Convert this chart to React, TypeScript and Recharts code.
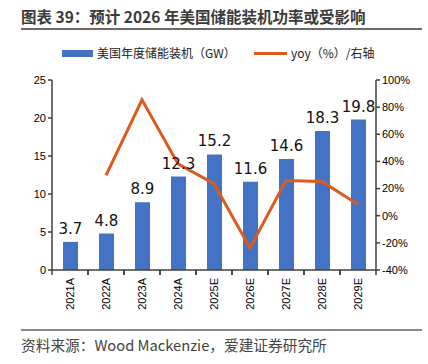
import { ComposedChart, Bar, Line, XAxis, YAxis, LabelList } from 'recharts';

const years = ['2021A', '2022A', '2023A', '2024A', '2025E', '2026E', '2027E', '2028E', '2029E'];
const installs = [3.7, 4.8, 8.9, 12.3, 15.2, 11.6, 14.6, 18.3, 19.8];
const yoy = [null, 29.7, 85.4, 38.2, 23.6, -23.7, 25.9, 25.3, 8.2];
const leftTicks = [0, 5, 10, 15, 20, 25];
const rightTicks = [-40, -20, 0, 20, 40, 60, 80, 100];

const BAR_COLOR = '#4472C4';
const LINE_COLOR = '#DD5A1E';
const AXIS_COLOR = '#404040';
const BAND = 36; // category width in px (324 / 9)

const data = years.map((y, i) => ({ year: y, gw: installs[i], yoy: yoy[i] }));

function XTick(props: any) {
  const { x, y, payload } = props;
  return (
    <g>
      <line x1={x - BAND / 2} x2={x - BAND / 2} y1={y - 8} y2={y - 3} stroke={AXIS_COLOR} strokeWidth={1.5} />
      <line x1={x + BAND / 2} x2={x + BAND / 2} y1={y - 8} y2={y - 3} stroke={AXIS_COLOR} strokeWidth={1.5} />
      <text
        x={0}
        y={0}
        transform={`translate(${x + 4},${y})rotate(-90)`}
        textAnchor="end"
        fontSize={11}
        fill="#000"
        fontFamily="Liberation Sans, Arial, sans-serif"
      >
        {payload.value}
      </text>
    </g>
  );
}

export default function App() {
  return (
    <div style={{ position: 'absolute', left: 0, top: 0, width: 428, height: 364, background: '#fff', fontFamily: '"Noto Sans CJK SC", sans-serif' }}>
      <div style={{ position: 'absolute', left: 21, top: 5, fontSize: 15.5, fontWeight: 700, color: '#3a3a3a', whiteSpace: 'nowrap' }}>
        图表 39：预计 2026 年美国储能装机功率或受影响
      </div>
      <div style={{ position: 'absolute', left: 21, top: 28, width: 401, height: 2, background: '#6a6a6a' }} />

      {/* legend */}
      <div style={{ position: 'absolute', left: 62, top: 50, width: 31, height: 7, background: BAR_COLOR }} />
      <div style={{ position: 'absolute', left: 97, top: 44, fontSize: 12, color: '#222', whiteSpace: 'nowrap' }}>美国年度储能装机（GW）</div>
      <div style={{ position: 'absolute', left: 254, top: 52, width: 33, height: 3, background: LINE_COLOR }} />
      <div style={{ position: 'absolute', left: 291, top: 44, fontSize: 12, color: '#222', whiteSpace: 'nowrap' }}>yoy（%）/右轴</div>

      <div style={{ position: 'absolute', left: 0, top: 0 }}>
        <ComposedChart width={428} height={364} data={data} margin={{ top: 80, right: 2, bottom: 54, left: 12 }}>
          <XAxis
            dataKey="year"
            height={40}
            tick={<XTick />}
            tickLine={false}
            axisLine={{ stroke: AXIS_COLOR, strokeWidth: 1.5 }}
            interval={0}
          />
          <YAxis
            yAxisId="left"
            width={40}
            domain={[0, 25]}
            ticks={leftTicks}
            tickSize={4}
            tickLine={{ stroke: AXIS_COLOR, strokeWidth: 1.5 }}
            axisLine={{ stroke: AXIS_COLOR, strokeWidth: 1.5 }}
            tick={{ fontSize: 11, fill: '#000', fontFamily: 'Liberation Sans, Arial, sans-serif' }}
          />
          <YAxis
            yAxisId="right"
            orientation="right"
            width={50}
            domain={[-40, 100]}
            ticks={rightTicks}
            tickFormatter={(v: number) => `${v}%`}
            tickSize={4}
            tickLine={{ stroke: AXIS_COLOR, strokeWidth: 1.5 }}
            axisLine={{ stroke: AXIS_COLOR, strokeWidth: 1.5 }}
            tick={{ fontSize: 11, fill: '#000', fontFamily: 'Liberation Sans, Arial, sans-serif' }}
          />
          <Bar yAxisId="left" dataKey="gw" fill={BAR_COLOR} barSize={15} isAnimationActive={false}>
            <LabelList dataKey="gw" position="top" offset={8} fontSize={15} fill="#111" fontFamily="DejaVu Sans, sans-serif" />
          </Bar>
          <Line
            yAxisId="right"
            dataKey="yoy"
            type="linear"
            stroke={LINE_COLOR}
            strokeWidth={3}
            dot={false}
            connectNulls={false}
            isAnimationActive={false}
          />
        </ComposedChart>
      </div>

      <div style={{ position: 'absolute', left: 21, top: 329, width: 401, height: 2, background: '#8a8a8a' }} />
      <div style={{ position: 'absolute', left: 21, top: 334, fontSize: 14.7, color: '#444', whiteSpace: 'nowrap' }}>
        资料来源：Wood Mackenzie，爱建证券研究所
      </div>
    </div>
  );
}
